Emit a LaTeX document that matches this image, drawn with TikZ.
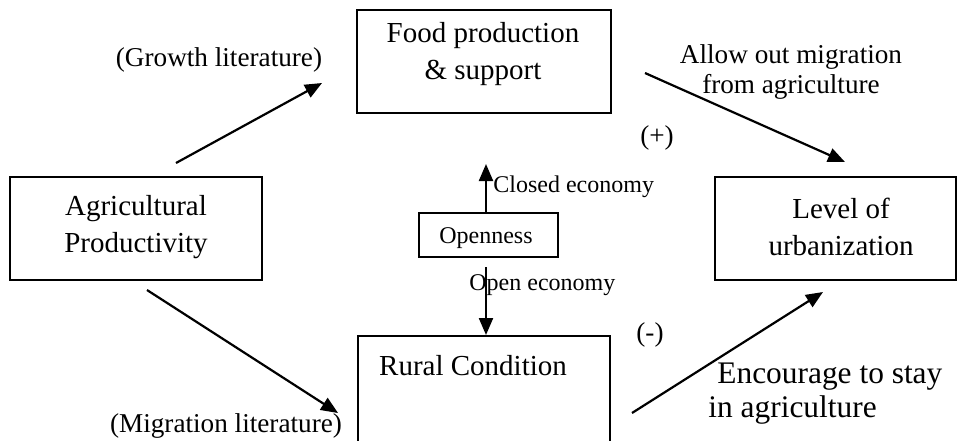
\documentclass[tikz,border=0pt]{standalone}
\usepackage{fontspec}
\setmainfont{Liberation Serif}
\usetikzlibrary{arrows.meta}
\begin{document}
\begin{tikzpicture}[x=0.5pt,y=-0.5pt,
 box/.style={draw,line width=1pt,inner sep=0pt},
 big/.style={font=\fontsize{14.5}{18.5}\selectfont,align=center,inner sep=0pt},
 mid/.style={font=\fontsize{13.6}{14.5}\selectfont,align=center,inner sep=0pt},
 small/.style={font=\fontsize{12}{14}\selectfont,inner sep=0pt},
 enc/.style={font=\fontsize{15.7}{16.5}\selectfont,inner sep=0pt},
 arr/.style={-{Triangle[length=8.5pt,width=7pt]},line width=1.1pt}]
\useasboundingbox (0,0) rectangle (958,440);
\clip (0,0) rectangle (958,440);
% boxes
\node[box,minimum width=127pt,minimum height=51.5pt] (food) at (484,61.5) {};
\node[box,minimum width=126pt,minimum height=51.5pt] (agri) at (136,228.5) {};
\node[box,minimum width=120.5pt,minimum height=51.5pt] (level) at (835.5,228.5) {};
\node[box,minimum width=69.5pt,minimum height=22pt] (open) at (488.5,235) {};
\node[box,minimum width=126pt,minimum height=57pt] (rural) at (484,393) {};
% box texts
\node[big] (foodt) at (483,54) {Food production\\\& support};
\node[big] (agrit) at (136,227) {Agricultural\\Productivity};
\node[big] (levelt) at (841,227) {Level of\\urbanization};
\node[big] (ruralt) at (473,366) {Rural Condition};
\node[small] (opent) at (486,238) {Openness};
% labels
\node[small,anchor=west] (closed) at (493,187) {Closed economy};
\node[small,anchor=west] (openec) at (469,285) {Open economy};
\node[mid] (growth) at (219,60) {(Growth literature)};
\node[mid] (migr) at (226,426) {(Migration literature)};
\node[mid,font=\fontsize{13.6}{15}\selectfont] (allow) at (791,71.5) {Allow out migration\\from agriculture};
\node[mid] (plus) at (657,138) {(+)};
\node[mid] (minus) at (650,335) {(-)};
\node[enc,anchor=west] (enc1) at (717,377) {Encourage to stay};
\node[enc,anchor=west] (enc2) at (708,410) {in agriculture};
% arrow ends
\coordinate (g1) at (176,163); \coordinate (g2) at (322,83);
\coordinate (m1) at (147,290); \coordinate (m2) at (338,413);
\coordinate (f1) at (645,73);  \coordinate (f2) at (845,162);
\coordinate (e1) at (632,413); \coordinate (e2) at (823,292);
\coordinate (cu) at (486,164); \coordinate (od) at (486,267);
% connectors
\draw[arr] (g1) -- (g2);
\draw[arr] (m1) -- (m2);
\draw[arr] (f1) -- (f2);
\draw[arr] (e1) -- (e2);
\draw[arr] (open.north -| cu) -- (cu);
\draw[arr] (od) -- (od |- rural.north);
\end{tikzpicture}
\end{document}
